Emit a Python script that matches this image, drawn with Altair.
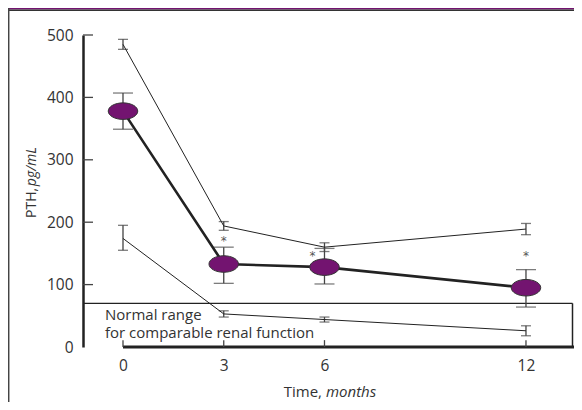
import altair as alt
import pandas as pd

# ---- data ----
months = [0, 3, 6, 12]

upper_mean = [485, 194, 160, 189]
upper_lo = [477, 187, 153, 180]
upper_hi = [493, 201, 167, 198]

main_mean = [378, 133, 128, 95]
main_lo = [349, 102, 101, 64]
main_hi = [407, 160, 158, 124]

lower_mean = [174, 53, 44, 26]
lower_lo = [155, 48, 40, 18]
lower_hi = [195, 58, 48, 34]

star_x = [3, 5.64, 12]
star_y = [170, 146, 146]

y_ticks = [0, 100, 200, 300, 400, 500]
x_ticks = [0, 3, 6, 12]
normal_upper = 70

FONT = "Open Sans"
PURPLE = "#731470"
INK = "#222222"
GREY = "#444444"
TXT = "#333333"

XMIN, XMAX = -1.191, 13.43
xs = alt.Scale(domain=[XMIN, XMAX], nice=False, zero=False)
ys = alt.Scale(domain=[0, 500], nice=False)

AX_Y = alt.Axis(values=y_ticks, title=None, grid=False, ticks=False,
                labelPadding=10, labelFontSize=15.5, labelFont=FONT,
                labelColor=TXT, domainColor=INK, domainWidth=2.5)
AX_X = alt.Axis(values=x_ticks, title=None, grid=False, ticks=False,
                labelPadding=11, labelFontSize=15.5, labelFont=FONT,
                labelColor=TXT, domain=False)

def XQ(f):
    return alt.X(f, type="quantitative", scale=xs, axis=AX_X)

def YQ(f):
    return alt.Y(f, type="quantitative", scale=ys, axis=AX_Y)

def frame(mean, lo, hi, name):
    return pd.DataFrame({"m": months, "v": mean, "lo": lo, "hi": hi, "s": name})

up = frame(upper_mean, upper_lo, upper_hi, "upper")
mn = frame(main_mean, main_lo, main_hi, "main")
lw = frame(lower_mean, lower_lo, lower_hi, "lower")

# axes (x axis line starts at month 0; ticks point inward)
xline = alt.Chart(pd.DataFrame({"a": [0], "b": [XMAX], "y": [0]})).mark_rule(
    color=INK, strokeWidth=3).encode(x=XQ("a"), x2="b:Q", y=YQ("y"))
xtick = alt.Chart(pd.DataFrame({"t": x_ticks, "y0": 0, "y1": 11})).mark_rule(
    color=GREY, strokeWidth=1.3).encode(x=XQ("t"), y=YQ("y0"), y2="y1:Q")
ytick = alt.Chart(pd.DataFrame({"t": y_ticks[1:]})).mark_rule(
    color=GREY, strokeWidth=1.3).encode(x=alt.value(0), x2=alt.value(10), y=YQ("t"))

# normal range box
box_top = alt.Chart(pd.DataFrame({"y": [normal_upper]})).mark_rule(
    color=INK, strokeWidth=1.3).encode(x=alt.value(0), x2=alt.value(489.5), y=YQ("y"))
box_right = alt.Chart(pd.DataFrame({"y": [0], "y2": [normal_upper]})).mark_rule(
    color=INK, strokeWidth=1.5).encode(x=alt.value(489.5), y=YQ("y"), y2="y2:Q")
box_text = alt.Chart(pd.DataFrame({"x": [-0.536, -0.536], "y": [51.5, 22],
                                   "t": ["Normal range", "for comparable renal function"]})).mark_text(
    align="left", baseline="middle", fontSize=15, font=FONT, color=TXT).encode(
    x=XQ("x"), y=YQ("y"), text="t:N")

def errbars(df, cap):
    v = alt.Chart(df).mark_rule(color=GREY, strokeWidth=1.3).encode(
        x=XQ("m"), y=YQ("lo"), y2="hi:Q")
    t1 = alt.Chart(df).mark_tick(orient="horizontal", size=cap, thickness=1.3, color=GREY).encode(
        x=XQ("m"), y=YQ("lo"))
    t2 = alt.Chart(df).mark_tick(orient="horizontal", size=cap, thickness=1.3, color=GREY).encode(
        x=XQ("m"), y=YQ("hi"))
    return v + t1 + t2

thin_up = alt.Chart(up).mark_line(color=INK, strokeWidth=1).encode(x=XQ("m"), y=YQ("v"))
thin_lw = alt.Chart(lw).mark_line(color=INK, strokeWidth=1).encode(x=XQ("m"), y=YQ("v"))
thick = alt.Chart(mn).mark_line(color=INK, strokeWidth=2.6).encode(x=XQ("m"), y=YQ("v"))

ELLIPSE = "M -1 0 A 1 0.56 0 1 1 1 0 A 1 0.56 0 1 1 -1 0 Z"
dots = alt.Chart(mn).mark_point(shape=ELLIPSE, size=870, filled=True, fill=PURPLE,
                                stroke="#333333", strokeWidth=1, opacity=1).encode(
    x=XQ("m"), y=YQ("v"))

stars = alt.Chart(pd.DataFrame({"x": star_x, "y": star_y})).mark_text(
    text="*", fontSize=12, font="DejaVu Sans", color="#555555", baseline="middle").encode(
    x=XQ("x"), y=YQ("y"))

# titles
ytitle1 = alt.Chart(pd.DataFrame({"a": [0]})).mark_text(
    text="PTH,", angle=270, align="left", baseline="middle", fontSize=14, font=FONT,
    color=TXT).encode(x=alt.value(-51), y=alt.value(183))
ytitle2 = alt.Chart(pd.DataFrame({"a": [0]})).mark_text(
    text="pg/mL", angle=270, align="right", baseline="middle", fontSize=14, font=FONT,
    fontStyle="italic", color=TXT).encode(x=alt.value(-51), y=alt.value(112))
xtitle1 = alt.Chart(pd.DataFrame({"a": [0]})).mark_text(
    text="Time,", align="right", baseline="middle", fontSize=15, font=FONT,
    color=TXT).encode(x=alt.value(239), y=alt.value(357))
xtitle2 = alt.Chart(pd.DataFrame({"a": [0]})).mark_text(
    text="months", align="left", baseline="middle", fontSize=15, font=FONT,
    fontStyle="italic", color=TXT).encode(x=alt.value(243), y=alt.value(357))

# frame decorations
header = alt.Chart(pd.DataFrame({"a": [0]})).mark_rect(color=PURPLE).encode(
    x=alt.value(-75), x2=alt.value(491), y=alt.value(-27), y2=alt.value(-25.5))
header_line = alt.Chart(pd.DataFrame({"a": [0]})).mark_rule(color="#333333", strokeWidth=1.5).encode(
    x=alt.value(-75), x2=alt.value(491), y=alt.value(-24.8))
left_border = alt.Chart(pd.DataFrame({"a": [0]})).mark_rule(color=GREY, strokeWidth=1.5).encode(
    x=alt.value(-74.3), y=alt.value(-27), y2=alt.value(367))

chart = alt.layer(
    header, header_line, left_border,
    xline, xtick, ytick,
    box_top, box_right, box_text,
    errbars(up, 10), errbars(lw, 10), errbars(mn, 20),
    thin_up, thin_lw, thick, dots, stars,
    ytitle1, ytitle2, xtitle1, xtitle2,
).properties(
    width=491, height=312,
    padding={"left": 75, "top": 27, "right": 0, "bottom": 55},
    autosize="none",
    background="white",
).configure_view(stroke=None)

chart.save("out.html", embed_options={"renderer": "svg", "actions": False})
